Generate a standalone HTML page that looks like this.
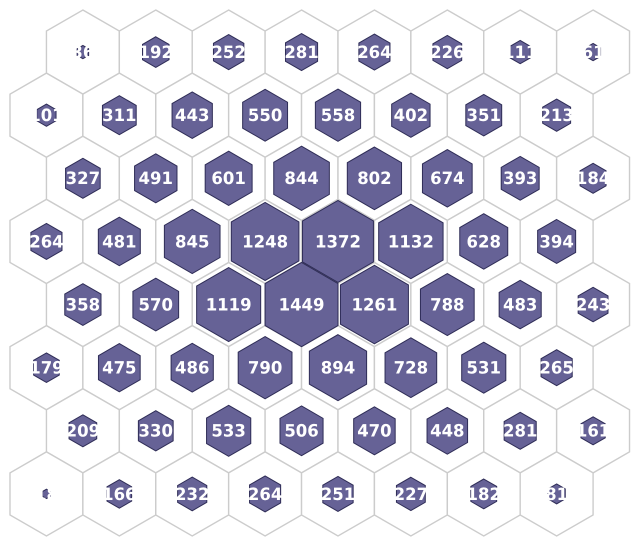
<!DOCTYPE html>
<html>
<head>
<meta charset="utf-8">
<style>
html,body{margin:0;padding:0;background:#fff;width:640px;height:546px;overflow:hidden}
svg{display:block}
text{font-family:"DejaVu Sans","Liberation Sans",sans-serif;font-weight:700;font-size:17px;fill:#fff;text-anchor:middle;text-rendering:geometricPrecision}
</style>
</head>
<body>
<svg id="chart" width="640" height="546" viewBox="0 0 640 546" xmlns="http://www.w3.org/2000/svg"></svg>
<script>
const row0 = [36,192,252,281,264,226,111,61];
const row1 = [101,311,443,550,558,402,351,213];
const row2 = [327,491,601,844,802,674,393,184];
const row3 = [264,481,845,1248,1372,1132,628,394];
const row4 = [358,570,1119,1449,1261,788,483,243];
const row5 = [179,475,486,790,894,728,531,265];
const row6 = [209,330,533,506,470,448,281,161];
const row7 = [18,166,232,264,251,227,182,81];
const rows = [row0,row1,row2,row3,row4,row5,row6,row7];

const NS = 'http://www.w3.org/2000/svg';
const svg = document.getElementById('chart');
const R = 42.08;
const W = R * Math.sqrt(3);
const maxValue = 1449;
function cx(r, c){ return 10 + W / 2 + c * W + (r % 2 === 0 ? W / 2 : 0); }
function cy(r){ return 10 + R + r * 1.5 * R; }
function radius(v){ return R * Math.sqrt(v / maxValue); }
function hexPoints(x, y, rad){
  const p = [];
  for (let i = 0; i < 6; i++) {
    const a = Math.PI / 3 * i;
    p.push((x + rad * Math.sin(a)).toFixed(2) + ',' + (y - rad * Math.cos(a)).toFixed(2));
  }
  return p.join(' ');
}
const gridLayer = document.createElementNS(NS, 'g');


svg.appendChild(gridLayer);
const dataLayer = document.createElementNS(NS, 'g');


svg.appendChild(dataLayer);
const labelLayer = document.createElementNS(NS, 'g');


svg.appendChild(labelLayer);

rows.forEach(function(values, r){
  values.forEach(function(v, c){
    const x = cx(r, c), y = cy(r);
    const g = document.createElementNS(NS, 'polygon');
    g.setAttribute('points', hexPoints(x, y, R));
    g.setAttribute('fill', '#fff');
    g.setAttribute('stroke', '#ccc');
    g.setAttribute('stroke-width', '1.4');
    
    
    gridLayer.appendChild(g);

    const h = document.createElementNS(NS, 'polygon');
    h.setAttribute('points', hexPoints(x, y, radius(v)));
    h.setAttribute('fill', '#666296');
    h.setAttribute('stroke', '#2f2d57');
    h.setAttribute('stroke-width', '1');
    
    
    dataLayer.appendChild(h);

    const t = document.createElementNS(NS, 'text');
    t.setAttribute('transform', 'translate(' + x.toFixed(2) + ' ' + (y + 5.9).toFixed(2) + ') scale(0.97 1)');
    
    
    t.textContent = String(v);
    labelLayer.appendChild(t);
  });
});
</script>
</body>
</html>
